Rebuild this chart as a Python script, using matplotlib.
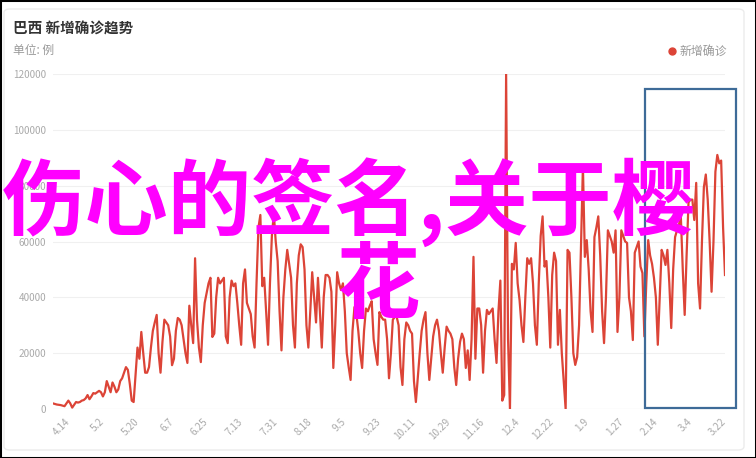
import matplotlib
matplotlib.use("Agg")
import matplotlib.pyplot as plt
from matplotlib.patches import Rectangle, FancyBboxPatch
import numpy as np

plt.rcParams['font.family'] = ['Noto Sans CJK SC', 'DejaVu Sans']

title = "巴西 新增确诊趋势"
subtitle = "单位: 例"
legend_label = "新增确诊"
overlay_line1 = "伤心的签名,关于樱"
overlay_line2 = "花"

# daily new cases (thousands), 2020-04-06 .. 2021-03-22, grouped by week
week_values = [
    [2.0, 1.8, 1.6, 1.5, 1.4, 1.2, 1.0],
    [2.0, 3.0, 2.0, 0.5, 1.5, 2.5, 2.3],
    [2.5, 3.0, 3.2, 3.8, 5.0, 3.5, 4.5],
    [5.7, 5.5, 6.0, 6.5, 6.0, 4.5, 6.0],
    [10.0, 8.0, 6.0, 9.5, 8.0, 6.0, 7.0],
    [10.0, 11.0, 13.0, 15.0, 14.0, 9.0, 3.0],
    [2.5, 12.0, 22.0, 18.0, 27.6, 20.0, 13.0],
    [13.0, 15.0, 22.0, 28.0, 31.0, 33.7, 20.0],
    [13.0, 24.0, 32.0, 31.0, 30.0, 26.0, 15.7],
    [18.0, 28.0, 32.6, 32.0, 30.0, 25.0, 20.0],
    [16.5, 37.0, 30.0, 23.6, 54.0, 32.0, 22.0],
    [16.8, 30.0, 38.0, 41.5, 45.0, 47.0, 25.8],
    [27.0, 40.0, 47.0, 45.0, 46.0, 47.0, 26.0],
    [23.6, 40.0, 46.0, 44.0, 45.0, 38.0, 30.0],
    [23.0, 45.0, 50.0, 38.0, 36.0, 34.0, 26.0],
    [22.0, 45.0, 65.0, 69.5, 44.0, 47.0, 35.0],
    [23.0, 45.0, 62.0, 70.0, 60.0, 53.0, 35.0],
    [21.0, 40.0, 50.0, 57.0, 52.0, 47.0, 30.0],
    [22.0, 45.0, 55.0, 59.0, 58.0, 50.0, 30.0],
    [22.0, 35.0, 49.0, 40.0, 31.0, 47.0, 35.0],
    [22.0, 40.0, 48.0, 48.0, 47.0, 42.0, 14.7],
    [30.0, 49.0, 45.0, 42.6, 45.0, 35.0, 20.0],
    [15.0, 10.4, 28.0, 36.5, 34.0, 28.0, 20.0],
    [14.7, 28.0, 36.0, 35.0, 37.0, 38.6, 25.0],
    [20.0, 15.8, 34.7, 33.0, 32.0, 32.0, 25.0],
    [11.0, 20.0, 32.0, 33.0, 33.0, 30.0, 15.0],
    [8.6, 25.0, 31.0, 30.0, 28.0, 27.0, 10.0],
    [2.5, 11.5, 20.0, 28.0, 32.0, 34.7, 20.0],
    [10.4, 18.0, 26.0, 30.0, 32.0, 28.0, 20.0],
    [13.0, 22.0, 29.5, 28.0, 27.0, 25.0, 15.0],
    [8.6, 18.0, 24.0, 27.0, 25.0, 14.7, 21.0],
    [10.4, 25.0, 54.5, 18.0, 36.0, 36.0, 30.0],
    [13.0, 28.0, 35.5, 34.0, 35.0, 36.0, 25.0],
    [16.5, 35.0, 46.0, 3.0, 5.0, 120.0, 25.0],
    [0.0, 52.0, 50.0, 59.5, 45.0, 39.0, 30.0],
    [24.0, 40.0, 54.0, 52.0, 54.0, 45.0, 30.0],
    [23.0, 45.0, 62.0, 69.0, 51.0, 53.0, 40.0],
    [22.0, 48.0, 56.0, 53.0, 23.0, 35.5, 20.0],
    [10.0, 0.0, 57.0, 56.0, 40.0, 20.0, 15.8],
    [18.6, 30.0, 58.0, 87.0, 54.5, 60.5, 50.0],
    [35.0, 27.6, 61.6, 65.0, 69.0, 55.0, 35.0],
    [23.6, 40.0, 64.0, 62.0, 60.0, 56.0, 64.0],
    [27.6, 40.0, 64.0, 62.0, 60.0, 59.5, 40.0],
    [35.0, 24.7, 56.0, 58.0, 60.0, 51.0, 48.7],
    [26.0, 45.0, 60.5, 55.0, 52.0, 47.0, 40.0],
    [23.0, 40.0, 57.0, 55.0, 51.6, 57.0, 45.0],
    [29.0, 50.0, 61.6, 64.0, 66.0, 69.0, 50.0],
    [33.7, 55.0, 74.0, 75.0, 75.0, 67.7, 81.0],
    [45.0, 36.0, 60.0, 79.5, 84.0, 75.0, 60.0],
    [42.0, 60.0, 85.0, 91.0, 88.0, 89.0, 65.0],
    [48.0],
]
new_cases_k = [v for wk in week_values for v in wk]

tick_labels = ["4.14", "5.2", "5.20", "6.7", "6.25", "7.13", "7.31", "8.18", "9.5", "9.23",
               "10.11", "10.29", "11.16", "12.4", "12.22", "1.9", "1.27", "2.14", "3.4", "3.22"]
tick_days = [8 + 18 * i for i in range(len(tick_labels))]
y_ticks = [0, 20000, 40000, 60000, 80000, 100000, 120000]

W, H = 756, 458
def fx(x): return x / W
def fy(y): return 1 - y / H

fig = plt.figure(figsize=(W / 100, H / 100), dpi=100)
fig.patch.set_facecolor('white')

# card
card = FancyBboxPatch((fx(4), fy(450)), fx(744) - fx(4), fy(9) - fy(450),
                      boxstyle="round,pad=0,rounding_size=0.008",
                      transform=fig.transFigure, fc='white', ec='#ececec', lw=1.0, zorder=-5)
fig.patches.append(card)
# outer black frame
fig.patches.append(Rectangle((0, 0), 1, 1, transform=fig.transFigure, fill=False,
                             ec='black', lw=2.2, zorder=10))

ax = fig.add_axes([fx(53), fy(409), fx(725) - fx(53), fy(74) - fy(409)])
ax.set_zorder(1)
ax.set_facecolor('none')
days = np.arange(len(new_cases_k))
values = np.array(new_cases_k) * 1000
ax.plot(days, values, color='#dc4437', lw=1.6, solid_joinstyle='round', zorder=3)
ax.set_xlim(0, len(new_cases_k) - 1)
ax.set_ylim(0, 120000)
ax.set_yticks(y_ticks)
ax.set_yticklabels([str(v) for v in y_ticks])
ax.set_xticks(tick_days)
ax.set_xticklabels(tick_labels, rotation=45, ha='right', va='center', rotation_mode='anchor')
ax.tick_params(axis='both', length=0, colors='#aaaaaa', labelsize=7.2)
ax.tick_params(axis='x', pad=8)
ax.tick_params(axis='y', pad=5)
for s in ax.spines.values():
    s.set_visible(False)
ax.grid(axis='y', color='#f0f0f0', lw=0.8)
ax.set_axisbelow(True)
ax.axhline(0, color='#eaeaea', lw=0.8, zorder=1)

# titles
fig.text(fx(13), fy(29), title, fontsize=10.5, weight='bold', color='#333333', va='center', ha='left')
fig.text(fx(13), fy(50), subtitle, fontsize=8.5, color='#999999', va='center', ha='left')

# legend
fig.lines.append(plt.Line2D([fx(672)], [fy(51)], marker='o', ms=5, color='#dc4437',
                            transform=fig.transFigure))
fig.text(fx(680), fy(51), legend_label, fontsize=8.6, color='#999999', va='center', ha='left')

# highlight rectangle
fig.patches.append(Rectangle((fx(645), fy(408)), fx(736) - fx(645), fy(89) - fy(408),
                             transform=fig.transFigure, fill=False, ec='#3e6b98', lw=1.6, zorder=6))

# overlay text
fig.text(fx(2), fy(229), overlay_line1, fontsize=60, color='#ff00ff', weight='bold',
         ha='left', va='baseline', zorder=8)
fig.text(fx(378), fy(312), overlay_line2, fontsize=60, color='#ff00ff', weight='bold',
         ha='center', va='baseline', zorder=8)

fig.savefig('out.png', dpi=100)
